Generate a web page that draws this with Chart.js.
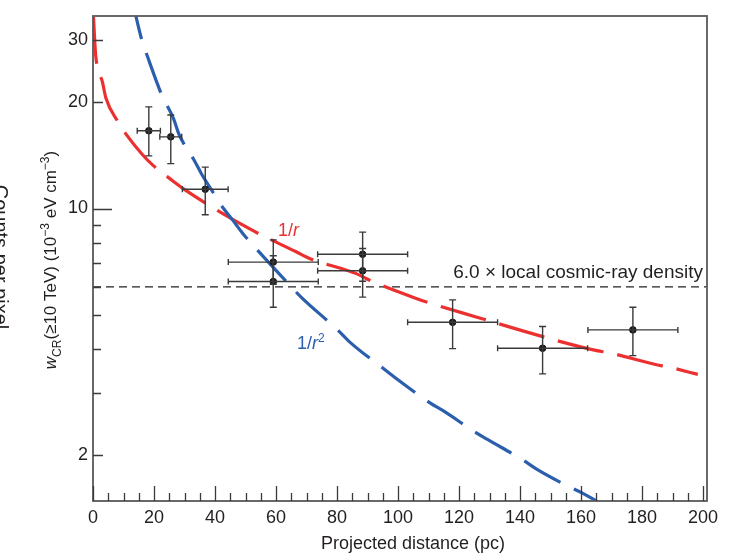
<!DOCTYPE html>
<html><head><meta charset="utf-8">
<script src="https://cdn.jsdelivr.net/npm/chart.js@4.4.0/dist/chart.umd.min.js"></script>
<style>html,body{margin:0;padding:0;background:#fff}#wrap{width:735px;height:554px;position:relative}</style>
</head><body><div id="wrap"><canvas id="c" width="735" height="554"></canvas></div>
<script>
// ---- data ----
const pointX     = [18.3, 25.5, 36.8, 59.1, 59.1, 88.4, 88.4, 117.9, 147.4, 177.0];
const pointY     = [16.6, 15.96, 11.34, 7.05, 6.21, 7.42, 6.66, 4.76, 4.02, 4.53];
const pointXErr  = [3.8, 3.6, 7.5, 14.75, 14.75, 14.75, 14.75, 14.75, 14.75, 14.75];
const pointYHigh = [19.4, 18.4, 13.1, 8.15, 7.35, 8.57, 7.70, 5.51, 4.63, 5.25];
const pointYLow  = [14.1, 13.4, 9.6, 6.10, 5.25, 6.22, 5.61, 4.01, 3.40, 3.83];

const redX = [0.16, 0.59, 0.92, 3.1, 4.2, 8.2, 10.7, 16.1, 19.6, 26.2, 30.3, 51.1, 66.6, 71.0, 86.3, 90.7, 106.0, 110.3, 125.6, 149.7, 164.4, 169.3, 184.1, 189.0, 198.3];
const redY = [34.9, 29.6, 26.9, 22.8, 20.6, 17.6, 16.3, 14.25, 13.27, 11.97, 11.27, 8.78, 7.54, 7.22, 6.54, 6.26, 5.56, 5.40, 4.93, 4.28, 3.97, 3.90, 3.62, 3.55, 3.39];

const blueX = [12.8, 14.0, 16.2, 17.9, 20.9, 22.6, 26.4, 28.1, 33.3, 35.5, 40.2, 42.8, 45.8, 49.1, 52.2, 65.0, 68.3, 80.3, 84.1, 95.6, 99.4, 110.6, 114.9, 125.8, 130.0, 140.9, 145.3, 156.0, 160.6, 165.5];
const blueY = [39.5, 35.3, 29.6, 26.9, 22.8, 20.9, 17.98, 16.3, 13.64, 12.57, 10.83, 10.0, 9.27, 8.50, 7.92, 6.00, 5.60, 4.52, 4.19, 3.50, 3.30, 2.81, 2.67, 2.31, 2.20, 1.94, 1.83, 1.63, 1.56, 1.476];

const densityLevel = 6.0;
const densityLabel = '6.0 \u00d7 local cosmic-ray density';

const xTickLabels = [0, 20, 40, 60, 80, 100, 120, 140, 160, 180, 200];
const xMinorStep = 5;
const yTickValues = [2, 3, 4, 5, 6, 7, 8, 9, 10, 20, 30];
const yTickLabels = [2, 10, 20, 30];

const xTitle = 'Projected distance (pc)';
const yTitleSegs = [
  {t: 'w', it: true}, {t: 'CR', sub: true}, {t: '(\u226510 TeV) (10'}, {t: '\u22123', sup: true},
  {t: ' eV cm'}, {t: '\u22123', sup: true}, {t: ')'}
];
const cutTitle = 'Counts per pixel';

// ---- styles ----
const FONT = '"Liberation Sans", Arial, Helvetica, sans-serif';
const TEXT = '#231f20';
const RED = '#ec3030';
const BLUE = '#2b5fae';
const X_MIN = 0, X_MAX = 201.3, Y_MIN = 1.484, Y_MAX = 35.1;

const toXY = (xs, ys) => xs.map((x, i) => ({x, y: ys[i]}));

function segFont(s, base) {
  const size = (s.sub || s.sup) ? Math.round(base * 0.68) : base;
  return (s.it ? 'italic ' : '') + size + 'px ' + FONT;
}
function richWidth(ctx, segs, base) {
  let w = 0;
  for (const s of segs) { ctx.font = segFont(s, base); w += ctx.measureText(s.t).width; }
  return w;
}
function drawRich(ctx, segs, base, x, y) {
  for (const s of segs) {
    ctx.font = segFont(s, base);
    const dy = s.sub ? base * 0.28 : (s.sup ? -base * 0.40 : 0);
    ctx.fillText(s.t, x, y + dy);
    x += ctx.measureText(s.t).width;
  }
}

const decorations = {
  id: 'decorations',
  afterDatasetsDraw(chart) {
    const {ctx, chartArea: a, scales: {x, y}} = chart;
    ctx.save();
    ctx.beginPath(); ctx.rect(a.left, a.top, a.right - a.left, a.bottom - a.top); ctx.clip();
    ctx.strokeStyle = '#3a3a3a'; ctx.lineWidth = 1.4;
    for (let i = 0; i < pointX.length; i++) {
      const px = x.getPixelForValue(pointX[i]);
      const py = y.getPixelForValue(pointY[i]);
      const x0 = x.getPixelForValue(pointX[i] - pointXErr[i]);
      const x1 = x.getPixelForValue(pointX[i] + pointXErr[i]);
      const y0 = y.getPixelForValue(pointYLow[i]);
      const y1 = y.getPixelForValue(pointYHigh[i]);
      ctx.beginPath();
      ctx.moveTo(x0, py); ctx.lineTo(x1, py);
      ctx.moveTo(x0, py - 3); ctx.lineTo(x0, py + 3);
      ctx.moveTo(x1, py - 3); ctx.lineTo(x1, py + 3);
      ctx.moveTo(px, y0); ctx.lineTo(px, y1);
      ctx.moveTo(px - 3.5, y0); ctx.lineTo(px + 3.5, y0);
      ctx.moveTo(px - 3.5, y1); ctx.lineTo(px + 3.5, y1);
      ctx.stroke();
    }
    ctx.restore();
  },
  afterDraw(chart) {
    const {ctx, chartArea: a, scales: {x, y}} = chart;
    ctx.save();
    // frame
    ctx.strokeStyle = '#58595b'; ctx.lineWidth = 1.8;
    ctx.strokeRect(a.left, a.top, a.right - a.left, a.bottom - a.top);
    // inward ticks
    ctx.strokeStyle = '#3a3a3a'; ctx.lineWidth = 1.3;
    ctx.beginPath();
    for (let v = 0; v <= 200; v += xMinorStep) {
      const px = Math.round(x.getPixelForValue(v)) + 0.5;
      const len = (v % 20 === 0) ? 15 : 8;
      ctx.moveTo(px, a.bottom); ctx.lineTo(px, a.bottom - len);
    }
    for (const v of yTickValues) {
      const py = Math.round(y.getPixelForValue(v)) + 0.5;
      const len = v === 10 ? 19 : (yTickLabels.includes(v) ? 10 : 8);
      ctx.moveTo(a.left, py); ctx.lineTo(a.left + len, py);
    }
    ctx.stroke();

    ctx.fillStyle = TEXT;
    // x title
    ctx.font = '18px ' + FONT; ctx.textAlign = 'center'; ctx.textBaseline = 'alphabetic';
    ctx.fillText(xTitle, 413, 549);
    // y title (rotated)
    ctx.textAlign = 'left';
    const base = 17;
    const w = richWidth(ctx, yTitleSegs, base);
    ctx.save();
    ctx.translate(56, 260); ctx.rotate(-Math.PI / 2);
    drawRich(ctx, yTitleSegs, base, -w / 2, 0);
    ctx.restore();
    // clipped title of a neighbouring panel at the left edge
    ctx.save();
    ctx.font = '20px ' + FONT; ctx.textAlign = 'center';
    ctx.translate(-6, 257); ctx.rotate(Math.PI / 2);
    ctx.fillText(cutTitle, 0, 0);
    ctx.restore();
    // density label
    ctx.font = '19px ' + FONT; ctx.textAlign = 'right';
    ctx.fillText(densityLabel, 703, y.getPixelForValue(densityLevel) - 9);
    // curve labels
    ctx.textAlign = 'left';
    ctx.fillStyle = RED;
    drawRich(ctx, [{t: '1/'}, {t: 'r', it: true}], 18, 278, 236);
    ctx.fillStyle = BLUE;
    drawRich(ctx, [{t: '1/'}, {t: 'r', it: true}, {t: '2', sup: true}], 18, 297, 349);
    ctx.restore();
  }
};

new Chart(document.getElementById('c'), {
  type: 'scatter',
  data: {
    datasets: [
      {data: toXY(pointX, pointY), backgroundColor: '#1a1a1a', borderColor: '#1a1a1a', pointRadius: 3.3, order: 0},
      {data: toXY(blueX, blueY), showLine: true, borderColor: BLUE, borderWidth: 3.2, borderDash: [42, 15],
       pointRadius: 0, cubicInterpolationMode: 'monotone', borderCapStyle: 'butt', order: 1},
      {data: toXY(redX, redY), showLine: true, borderColor: RED, borderWidth: 3.2, borderDash: [47, 14],
       pointRadius: 0, cubicInterpolationMode: 'monotone', borderCapStyle: 'butt', order: 2},
      {data: [{x: X_MIN, y: densityLevel}, {x: X_MAX, y: densityLevel}], showLine: true, borderColor: '#222',
       borderWidth: 1.2, borderDash: [8, 5], pointRadius: 0, order: 3}
    ]
  },
  options: {
    responsive: false, animation: false, devicePixelRatio: 1,
    layout: {padding: {left: 0, right: 28, top: 16, bottom: 0}},
    plugins: {legend: {display: false}, tooltip: {enabled: false}},
    scales: {
      x: {
        type: 'linear', min: X_MIN, max: X_MAX,
        grid: {display: false, drawTicks: false}, border: {display: false},
        afterBuildTicks: s => { s.ticks = xTickLabels.map(v => ({value: v})); },
        afterFit: s => { s.height = 53; },
        ticks: {padding: 6, maxRotation: 0, autoSkip: false, color: TEXT, font: {family: FONT, size: 18}}
      },
      y: {
        type: 'logarithmic', min: Y_MIN, max: Y_MAX,
        grid: {display: false, drawTicks: false}, border: {display: false},
        afterBuildTicks: s => { s.ticks = yTickValues.map(v => ({value: v})); },
        afterFit: s => { s.width = 93; },
        ticks: {padding: 5, autoSkip: false, color: TEXT, font: {family: FONT, size: 18},
                callback: v => yTickLabels.includes(v) ? String(v) : ''}
      }
    }
  },
  plugins: [decorations]
});
</script></body></html>
